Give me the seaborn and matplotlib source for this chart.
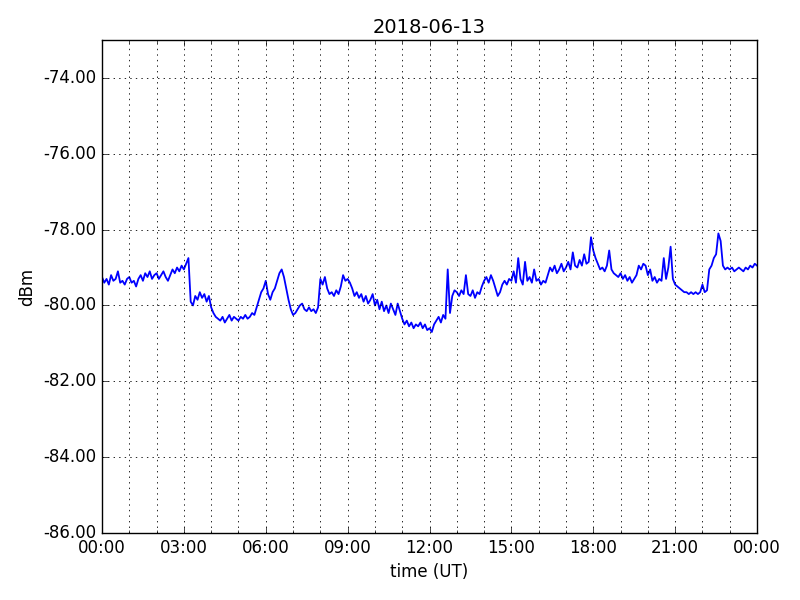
import numpy as np
import pandas as pd
import matplotlib
matplotlib.use("Agg")
import matplotlib.pyplot as plt
import seaborn as sns
from matplotlib.ticker import FixedLocator, FormatStrFormatter

# 5-minute samples, one row per hour (dBm)
h00 = [-79.25, -79.40, -79.30, -79.45, -79.20, -79.35, -79.30, -79.10, -79.40, -79.35, -79.45, -79.30]
h01 = [-79.25, -79.40, -79.35, -79.50, -79.30, -79.20, -79.35, -79.15, -79.25, -79.10, -79.30, -79.20]
h02 = [-79.15, -79.30, -79.20, -79.10, -79.25, -79.35, -79.20, -79.05, -79.15, -79.00, -79.10, -78.95]
h03 = [-79.05, -78.90, -78.75, -79.90, -80.00, -79.75, -79.85, -79.65, -79.80, -79.70, -79.90, -79.75]
h04 = [-80.05, -80.20, -80.30, -80.35, -80.40, -80.30, -80.45, -80.35, -80.25, -80.40, -80.30, -80.35]
h05 = [-80.40, -80.30, -80.35, -80.25, -80.35, -80.30, -80.20, -80.25, -80.05, -79.85, -79.65, -79.55]
h06 = [-79.35, -79.70, -79.85, -79.65, -79.55, -79.35, -79.15, -79.05, -79.25, -79.55, -79.85, -80.10]
h07 = [-80.25, -80.20, -80.10, -80.00, -79.95, -80.10, -80.15, -80.05, -80.15, -80.10, -80.20, -80.05]
h08 = [-79.30, -79.45, -79.25, -79.55, -79.70, -79.65, -79.75, -79.60, -79.70, -79.50, -79.20, -79.35]
h09 = [-79.30, -79.40, -79.55, -79.75, -79.65, -79.80, -79.70, -79.90, -79.75, -79.95, -79.85, -79.70]
h10 = [-80.00, -79.85, -80.10, -79.90, -80.15, -80.00, -80.20, -79.95, -80.10, -80.25, -79.95, -80.15]
h11 = [-80.35, -80.50, -80.40, -80.55, -80.45, -80.60, -80.50, -80.55, -80.45, -80.60, -80.50, -80.65]
h12 = [-80.60, -80.70, -80.50, -80.40, -80.30, -80.45, -80.25, -80.35, -79.05, -80.20, -79.75, -79.60]
h13 = [-79.65, -79.75, -79.60, -79.70, -79.20, -79.70, -79.75, -79.60, -79.80, -79.65, -79.70, -79.50]
h14 = [-79.35, -79.25, -79.40, -79.20, -79.35, -79.55, -79.75, -79.65, -79.45, -79.35, -79.45, -79.30]
h15 = [-79.35, -79.10, -79.40, -78.75, -79.30, -79.45, -78.85, -79.35, -79.25, -79.40, -79.05, -79.35]
h16 = [-79.30, -79.45, -79.35, -79.40, -79.20, -79.00, -79.10, -78.95, -79.15, -79.05, -78.90, -79.10]
h17 = [-79.00, -78.85, -79.05, -78.60, -78.95, -79.00, -78.80, -78.95, -78.65, -78.90, -78.85, -78.20]
h18 = [-78.55, -78.75, -78.90, -79.05, -79.00, -79.10, -78.95, -78.55, -79.05, -79.15, -79.20, -79.25]
h19 = [-79.15, -79.30, -79.20, -79.35, -79.25, -79.40, -79.30, -79.20, -78.95, -79.05, -78.90, -78.95]
h20 = [-79.20, -79.05, -79.35, -79.25, -79.40, -79.30, -79.35, -78.75, -79.30, -79.00, -78.45, -79.30]
h21 = [-79.45, -79.50, -79.55, -79.60, -79.65, -79.65, -79.70, -79.65, -79.70, -79.65, -79.70, -79.65]
h22 = [-79.45, -79.65, -79.60, -79.05, -78.95, -78.75, -78.65, -78.10, -78.30, -78.95, -79.05, -79.00]
h23 = [-79.05, -79.00, -79.10, -79.05, -79.00, -79.05, -79.10, -79.00, -79.05, -78.95, -79.00, -78.90]
end_value = [-78.95]

x_tick_labels = ["00:00", "03:00", "06:00", "09:00", "12:00", "15:00", "18:00", "21:00", "00:00"]
y_ticks = [-86, -84, -82, -80, -78, -76, -74]

rows = [h00, h01, h02, h03, h04, h05, h06, h07, h08, h09, h10, h11,
        h12, h13, h14, h15, h16, h17, h18, h19, h20, h21, h22, h23]
values = [v for r in rows for v in r] + end_value
hours = np.arange(len(values)) * (5.0 / 60.0)
df = pd.DataFrame({"hours": hours, "dBm": values})

plt.style.use("classic")
plt.rcParams["figure.facecolor"] = "white"
plt.rcParams["savefig.facecolor"] = "white"
plt.rcParams["font.family"] = ["DejaVu Sans"]

fig = plt.figure(figsize=(8, 6), dpi=100)
ax = fig.add_axes([0.1275, 0.1117, 0.8188, 0.8216])
sns.lineplot(data=df, x="hours", y="dBm", ax=ax, color="blue", linewidth=1.3,
             estimator=None, sort=False)

ax.set_xlim(0, 24)
ax.set_ylim(-86, -73.0)
ax.xaxis.set_major_locator(FixedLocator(np.arange(0, 25, 3)))
ax.set_xticklabels(x_tick_labels)
ax.xaxis.set_minor_locator(FixedLocator(np.arange(0, 25, 1)))
ax.yaxis.set_major_locator(FixedLocator(y_ticks))
ax.yaxis.set_major_formatter(FormatStrFormatter("%.2f"))
ax.tick_params(which="both", direction="in", top=True, right=True, labelsize=12)
ax.tick_params(which="minor", length=2)
ax.grid(True, which="major", axis="both", linestyle=":", color="black", linewidth=0.6)
ax.grid(True, which="minor", axis="x", linestyle=":", color="black", linewidth=0.6)

ax.set_title("2018-06-13", fontsize=14)
ax.set_xlabel("time (UT)", fontsize=12)
ax.set_ylabel("dBm", fontsize=12)

fig.savefig("out.png", dpi=100)
